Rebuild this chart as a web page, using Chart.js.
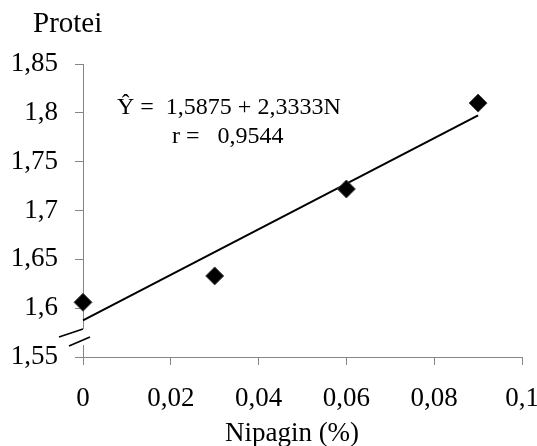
<!DOCTYPE html>
<html>
<head>
<meta charset="utf-8">
<script src="https://cdn.jsdelivr.net/npm/chart.js@4.4.1/dist/chart.umd.min.js"></script>
<style>
  html, body { margin: 0; padding: 0; background: #fff; }
</style>
</head>
<body>
<canvas id="protein-chart" width="537" height="446"></canvas>
<script>
// Protein content vs. nipagin level, with the fitted regression line
const nipaginLevels = [0, 0.03, 0.06, 0.09];
const proteinValues = [1.606, 1.633, 1.722, 1.81];
const xTickValues = [0, 0.02, 0.04, 0.06, 0.08, 0.1];
const yTickValues = [1.55, 1.6, 1.65, 1.7, 1.75, 1.8, 1.85];
const fitIntercept = 1.5875;
const fitSlope = 2.3333;
const fitR = 0.9544;

const serif = "'Liberation Serif', 'Times New Roman', serif";
const axisGray = '#868686';

function toComma(v) {
    return String(Math.round(v * 10000) / 10000).replace('.', ',');
}

const points = nipaginLevels.map((x, i) => ({ x: x, y: proteinValues[i] }));
const xFirst = nipaginLevels[0];
const xLast = nipaginLevels[nipaginLevels.length - 1];
const fitLine = [
    { x: xFirst, y: fitIntercept + fitSlope * xFirst },
    { x: xLast, y: fitIntercept + fitSlope * xLast }
];

// titles, equation text and the axis break marks
const extras = {
    id: 'extras',
    afterDraw(chart) {
        const ctx = chart.ctx;
        const area = chart.chartArea;
        const xs = chart.scales.x;
        const ys = chart.scales.y;
        ctx.save();
        ctx.fillStyle = '#000';
        ctx.textBaseline = 'alphabetic';
        ctx.textAlign = 'left';

        ctx.font = '29px ' + serif;
        ctx.fillText('Protei', area.left - 50, 32);

        ctx.font = '24px ' + serif;
        ctx.fillText('\u0176 =  ' + toComma(fitIntercept) + ' + ' + toComma(fitSlope) + 'N', area.left + 34, 114);
        ctx.fillText('r =   ' + toComma(fitR), area.left + 89, 143);

        ctx.textAlign = 'center';
        ctx.font = '27px ' + serif;
        ctx.fillText('Nipagin (%)', area.left + 209, 441);

        // broken y axis near the bottom
        const x0 = xs.getPixelForValue(0);
        const yTop = ys.getPixelForValue(1.5787);
        const yBot = ys.getPixelForValue(1.5623);
        ctx.fillStyle = '#fff';
        ctx.fillRect(x0 - 2, yTop, 4, yBot - yTop);
        ctx.strokeStyle = '#000';
        ctx.lineWidth = 1.6;
        ctx.beginPath();
        ctx.moveTo(x0 - 24, yTop + 8);
        ctx.lineTo(x0, yTop);
        ctx.moveTo(x0 - 14, yBot + 1);
        ctx.lineTo(x0 + 7, yBot - 8);
        ctx.stroke();
        ctx.restore();
    }
};

const chart = new Chart(document.getElementById('protein-chart').getContext('2d'), {
    type: 'scatter',
    data: {
        datasets: [{
            label: 'Regression',
            type: 'line',
            data: fitLine,
            borderColor: '#000',
            borderWidth: 2,
            pointRadius: 0,
            fill: false,
            clip: false,
            order: 2
        }, {
            label: 'Protein',
            data: points,
            pointStyle: 'rectRot',
            pointRadius: 9,
            pointHoverRadius: 9,
            backgroundColor: '#000',
            borderColor: '#444',
            borderWidth: 1,
            clip: false,
            order: 1
        }]
    },
    options: {
        responsive: false,
        animation: false,
        layout: { padding: { top: 64, right: 15, bottom: 0, left: 0 } },
        plugins: {
            legend: { display: false },
            tooltip: { enabled: false }
        },
        scales: {
            x: {
                type: 'linear',
                min: 0,
                max: 0.1,
                afterBuildTicks: scale => { scale.ticks = xTickValues.map(v => ({ value: v })); },
                afterFit: scale => { scale.height = 89; scale.paddingLeft = 0; scale.paddingRight = 0; },
                grid: { drawOnChartArea: false, drawTicks: true, tickLength: 8, color: axisGray },
                border: { color: axisGray, width: 1 },
                ticks: {
                    color: '#000',
                    padding: 18,
                    font: { family: serif, size: 27 },
                    callback: v => toComma(v)
                }
            },
            y: {
                type: 'linear',
                min: 1.55,
                max: 1.85,
                afterBuildTicks: scale => { scale.ticks = yTickValues.map(v => ({ value: v })); },
                afterFit: scale => { scale.width = 83; scale.paddingTop = 0; scale.paddingBottom = 0; },
                grid: { drawOnChartArea: false, drawTicks: true, tickLength: 8, color: axisGray },
                border: { color: axisGray, width: 1 },
                ticks: {
                    color: '#000',
                    padding: 17,
                    font: { family: serif, size: 27 },
                    callback: v => toComma(v)
                }
            }
        }
    },
    plugins: [extras]
});
</script>
</body>
</html>
